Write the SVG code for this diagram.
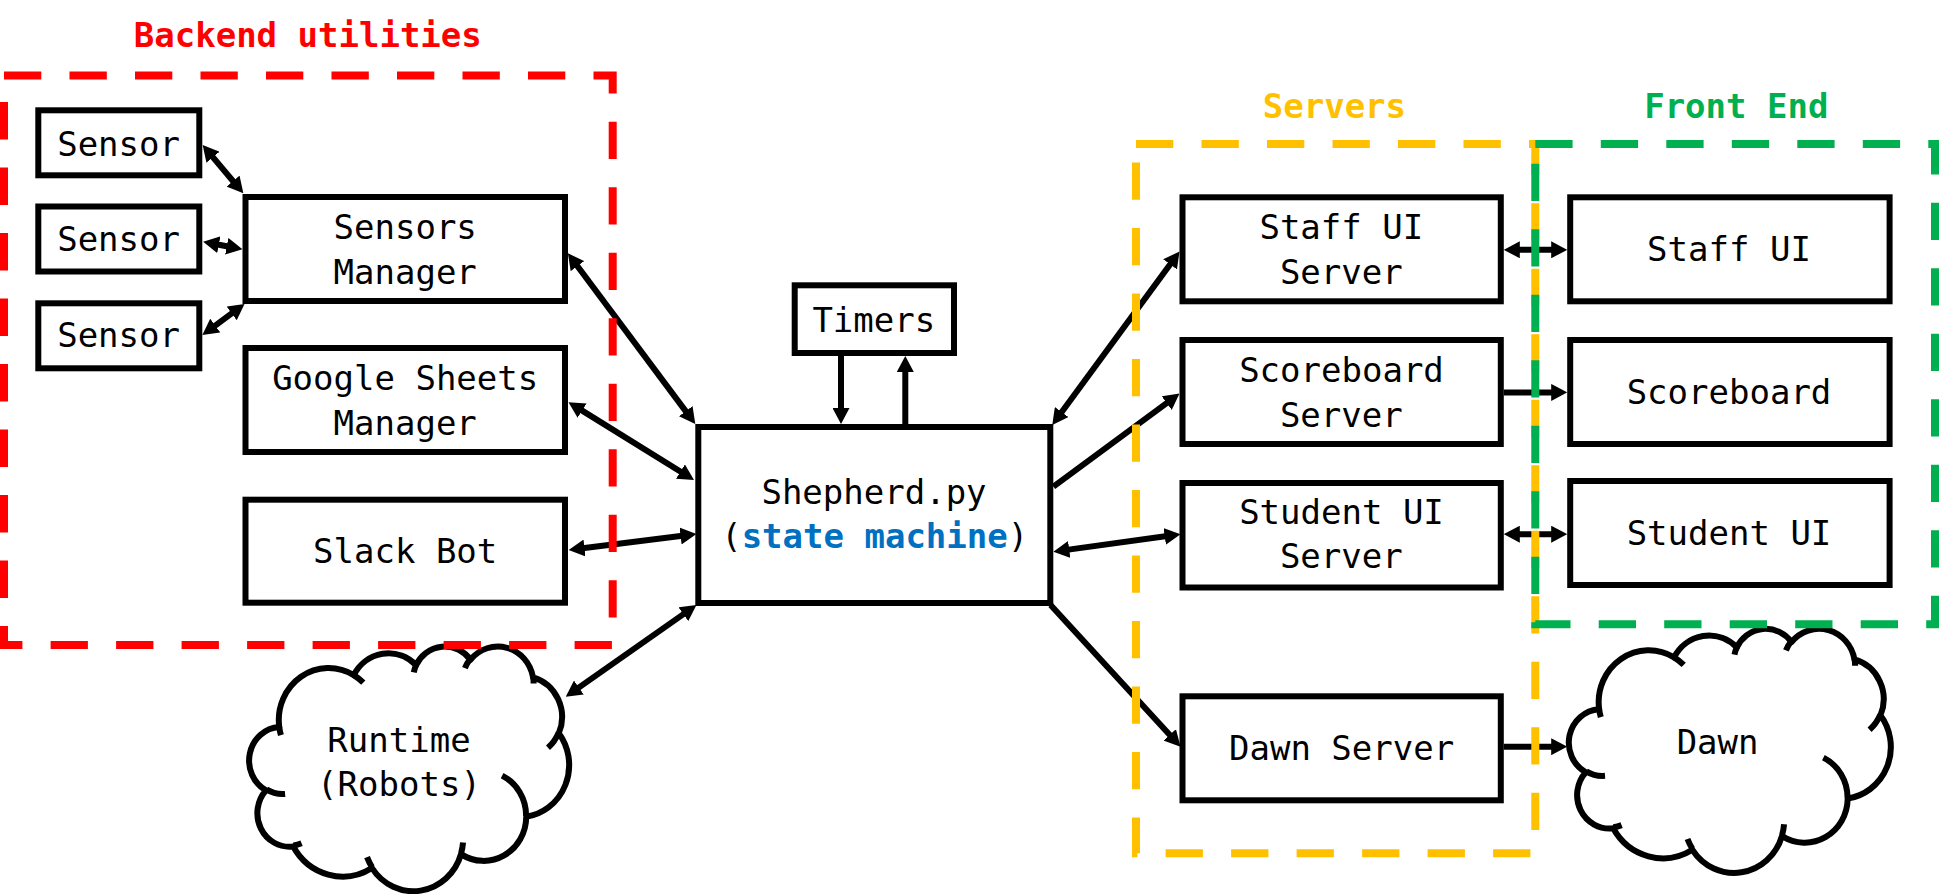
<svg xmlns="http://www.w3.org/2000/svg" width="1942" height="894" viewBox="0 0 1942 894">
<style>
.box{fill:#fff;stroke:#000;stroke-width:6}
.t{font-family:"DejaVu Sans Mono","Liberation Mono",monospace;font-size:34px;text-anchor:middle;fill:#000}
.b{font-weight:bold}
.red{fill:#FF0000}
.yel{fill:#FFC000}
.grn{fill:#00B050}
.blu{fill:#0070C0;font-weight:bold}
.frame{fill:none;stroke-width:8;stroke-dasharray:37.3 28.2}
.cl{fill:#fff;stroke:#000;stroke-width:6;stroke-linejoin:round;vector-effect:non-scaling-stroke}
.cli{fill:none;stroke:#000;stroke-width:6;stroke-linecap:butt;vector-effect:non-scaling-stroke}
.bi{marker-start:url(#ah);marker-end:url(#ah)}
.uni{marker-end:url(#ah)}
</style>
<defs>
<marker id="ah" viewBox="0 0 16 17" refX="8" refY="8.5" markerWidth="16" markerHeight="17" markerUnits="userSpaceOnUse" orient="auto-start-reverse">
<path d="M0,0 L16,8.5 L0,17 z" fill="#000"/>
</marker>
<g id="cloud">
<path class="cl" d="M39,143.7 A67.53,91.9 0 0 1 140.05,52.02 A53.33,72.67 0 0 1 224.56,34.32 A43.65,59.45 0 0 1 298.32,24.79 A48.57,65.95 0 0 1 383.17,55.74 A53.33,72.73 0 0 1 418.17,154.58 A67.75,92.2 0 0 1 374.01,302 A57.85,78.67 0 0 1 285.52,368.1 A67.52,92.15 0 0 1 164.76,392.63 A77.2,105.43 0 0 1 57.99,354.67 A43.6,59.18 0 0 1 21.07,255.47 A43.45,59.45 0 0 1 39,143.7 Z"/>
<path class="cli" d="M46.93,261.77 A43.45,59.45 0 0 1 21.6,253.8 M69.28,348.99 A43.6,59.18 0 0 1 58.2,352.8 M164.78,390.9 A67.52,92.15 0 0 1 158.09,373.49 M288.27,347.51 A67.52,92.15 0 0 1 285.61,366.6 M341.29,229.54 A57.85,78.67 0 0 1 373.81,300.9 M417.98,153.54 A53.33,72.73 0 0 1 403.5,180.3 M383.24,54.26 A48.57,65.95 0 0 1 384,66.9 M290.78,39.52 A48.57,65.95 0 0 1 298.2,23.4 M221.41,47.2 A43.65,59.45 0 0 1 225,33.3 M140,51.92 A67.53,91.9 0 0 1 152.99,65.39 M41.27,157.89 A67.53,91.9 0 0 1 39,143.7"/>
</g>
</defs>
<rect width="1942" height="894" fill="#fff"/>

<g id="runtime">
<use href="#cloud" transform="translate(250.5,645.7) scale(0.7373,0.5662)"/>
<text class="t" x="399" y="751.7">Runtime</text>
<text class="t" x="399" y="796">(Robots)</text>
</g>
<g id="dawn">
<use href="#cloud" transform="translate(1570.2,628) scale(0.7419,0.5648)"/>
<text class="t" x="1717.6" y="754">Dawn</text>
</g>

<g id="sensor1"><rect class="box" x="38.3" y="110.3" width="161" height="65"/><text class="t" x="118.6" y="156">Sensor</text></g>
<g id="sensor2"><rect class="box" x="38.3" y="206.5" width="161" height="65"/><text class="t" x="118.6" y="250.7">Sensor</text></g>
<g id="sensor3"><rect class="box" x="38.3" y="303.3" width="161" height="65"/><text class="t" x="118.6" y="347.3">Sensor</text></g>
<g id="sensors-manager"><rect class="box" x="245.5" y="197" width="319.5" height="104"/><text class="t" x="405.2" y="239.3">Sensors</text><text class="t" x="405.2" y="284">Manager</text></g>
<g id="sheets-manager"><rect class="box" x="245.5" y="348" width="319.5" height="104"/><text class="t" x="405.2" y="390">Google Sheets</text><text class="t" x="405.2" y="435">Manager</text></g>
<g id="slack-bot"><rect class="box" x="245.5" y="499.7" width="319.5" height="103"/><text class="t" x="405.2" y="563.3">Slack Bot</text></g>
<g id="timers"><rect class="box" x="794.7" y="285.3" width="159.3" height="67.7"/><text class="t" x="873.8" y="331.7">Timers</text></g>
<g id="shepherd"><rect class="box" x="698.3" y="427" width="352" height="176"/><text class="t" x="874" y="504">Shepherd.py</text><text class="t" x="874.7" y="548.3">(<tspan class="blu">state machine</tspan>)</text></g>
<g id="staff-ui-server"><rect class="box" x="1182.5" y="197.3" width="318.3" height="104"/><text class="t" x="1341.3" y="238.9">Staff UI</text><text class="t" x="1341.3" y="284.2">Server</text></g>
<g id="scoreboard-server"><rect class="box" x="1182.5" y="340" width="318.3" height="104"/><text class="t" x="1341.5" y="381.7">Scoreboard</text><text class="t" x="1341.3" y="427">Server</text></g>
<g id="student-ui-server"><rect class="box" x="1182.5" y="483" width="318.3" height="104.5"/><text class="t" x="1341.5" y="523.8">Student UI</text><text class="t" x="1341.3" y="568.4">Server</text></g>
<g id="dawn-server"><rect class="box" x="1182.5" y="696.3" width="318.3" height="104"/><text class="t" x="1341.6" y="760">Dawn Server</text></g>
<g id="staff-ui"><rect class="box" x="1570.2" y="197.3" width="319.4" height="104"/><text class="t" x="1729" y="261.4">Staff UI</text></g>
<g id="scoreboard"><rect class="box" x="1570.2" y="340" width="319.4" height="104"/><text class="t" x="1729" y="404.2">Scoreboard</text></g>
<g id="student-ui"><rect class="box" x="1570.2" y="481" width="319.4" height="104"/><text class="t" x="1729" y="545.2">Student UI</text></g>

<g id="connectors" fill="none" stroke="#000" stroke-width="6">
<line class="bi" x1="207.8" y1="151.1" x2="238.2" y2="187.2"/>
<line class="bi" x1="211" y1="243.2" x2="234.6" y2="247.8"/>
<line class="bi" x1="208.8" y1="330.3" x2="238.1" y2="308.7"/>
<line class="bi" x1="572.7" y1="259.7" x2="690.5" y2="417.6"/>
<line class="bi" x1="575.3" y1="406.4" x2="687.2" y2="475.8"/>
<line class="bi" x1="576.6" y1="549" x2="688.5" y2="535"/>
<line class="bi" x1="572.3" y1="692.1" x2="689.9" y2="609.6"/>
<line class="uni" x1="841" y1="356" x2="841" y2="416"/>
<line class="uni" x1="905.3" y1="427" x2="905.3" y2="364"/>
<line class="bi" x1="1057" y1="418.5" x2="1174.8" y2="257.9"/>
<line class="uni" x1="1053.4" y1="486.7" x2="1173.1" y2="398.3"/>
<line class="bi" x1="1061.3" y1="550.6" x2="1172.6" y2="535.3"/>
<line class="uni" x1="1050.6" y1="605" x2="1175.1" y2="740.8"/>
<line class="bi" x1="1511.8" y1="249.8" x2="1559.2" y2="249.8"/>
<line class="uni" x1="1503.8" y1="392.4" x2="1559.2" y2="392.4"/>
<line class="bi" x1="1511.8" y1="534.2" x2="1559.2" y2="534.2"/>
<line class="uni" x1="1503.8" y1="746.7" x2="1559.2" y2="746.7"/>
</g>

<g id="backend-utilities">
<rect class="frame" stroke="#FF0000" x="4" y="75.5" width="608.7" height="569.5"/>
<text class="t b red" x="307.8" y="46.7">Backend utilities</text>
</g>
<g id="servers">
<rect class="frame" stroke="#FFC000" x="1136" y="144" width="399.3" height="709.3"/>
<text class="t b yel" x="1334.4" y="117.5">Servers</text>
</g>
<g id="front-end">
<rect class="frame" stroke="#00B050" x="1535.3" y="144" width="399.7" height="480.3"/>
<text class="t b grn" x="1736.3" y="117.5">Front End</text>
</g>
</svg>
